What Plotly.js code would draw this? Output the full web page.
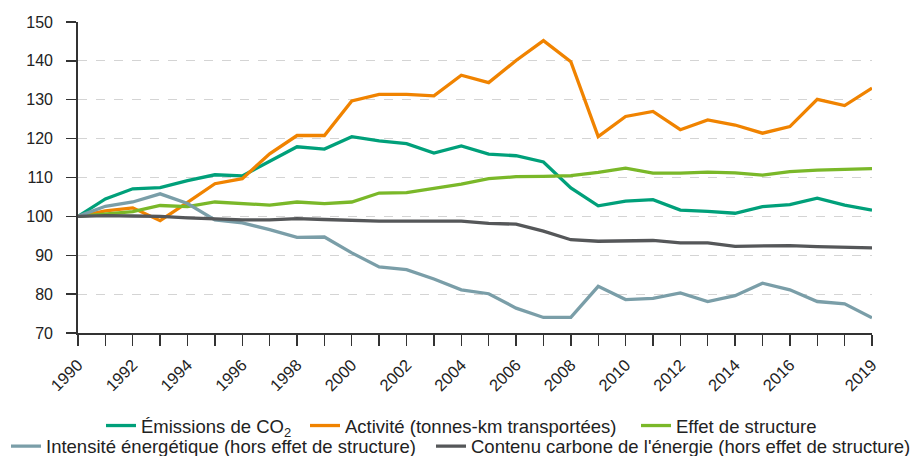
<!DOCTYPE html>
<html>
<head>
<meta charset="utf-8">
<script src="https://cdn.plot.ly/plotly-3.0.1.min.js"></script>
<style>
html,body{margin:0;padding:0;background:#fff;}
#chart{width:915px;height:456px;}
</style>
</head>
<body>
<div id="chart"></div>
<script>
const years = [1990,1991,1992,1993,1994,1995,1996,1997,1998,1999,2000,2001,2002,2003,2004,2005,2006,2007,2008,2009,2010,2011,2012,2013,2014,2015,2016,2017,2018,2019];
const emissions = [100,104.5,107.1,107.4,109.2,110.7,110.4,114.1,117.9,117.3,120.5,119.4,118.7,116.3,118.1,116.0,115.6,114.0,107.3,102.7,103.9,104.3,101.6,101.3,100.8,102.5,103.0,104.7,102.9,101.6];
const activite = [100,101.4,102.2,98.9,103.6,108.4,109.7,116.1,120.8,120.8,129.7,131.4,131.4,131.0,136.3,134.4,140.1,145.2,139.8,120.5,125.7,127.0,122.3,124.8,123.5,121.4,123.1,130.1,128.5,133.0];
const structure = [100,100.7,101.2,102.8,102.5,103.7,103.2,102.9,103.7,103.3,103.7,106.0,106.1,107.1,108.3,109.7,110.2,110.3,110.5,111.3,112.4,111.1,111.1,111.4,111.2,110.6,111.5,111.9,112.1,112.3];
const intensite = [100,102.6,103.7,105.8,103.3,99.1,98.3,96.6,94.6,94.7,90.6,87.0,86.3,83.9,81.1,80.1,76.4,74.0,74.0,82.0,78.6,78.9,80.3,78.1,79.6,82.8,81.1,78.1,77.5,73.9];
const carbone = [100,100.2,100.1,100.0,99.6,99.3,99.1,99.1,99.4,99.2,98.9,98.8,98.8,98.8,98.8,98.2,98.0,96.2,94.0,93.6,93.8,93.8,93.2,93.2,92.3,92.3,92.5,92.2,92.1,91.9];
const tickYears = years;
const tickLabels = ["1990","","1992","","1994","","1996","","1998","","2000","","2002","","2004","","2006","","2008","","2010","","2012","","2014","","2016","","","2019"];
const yTicks = [70,80,90,100,110,120,130,140,150];

const FONT = '"Liberation Sans", Arial, Helvetica, sans-serif';

function tr(name, y, color, legend) {
  return {x: years, y: y, name: name, type: 'scatter', mode: 'lines',
          line: {color: color, width: 3.3}, legend: legend};
}
const data = [
  tr('Émissions de CO<sub>2</sub>', emissions, '#00a07a', 'legend'),
  tr('Activité (tonnes-km transportées)', activite, '#f08300', 'legend2'),
  tr('Effet de structure', structure, '#7ab829', 'legend3'),
  tr('Intensité énergétique (hors effet de structure)', intensite, '#7a9ea8', 'legend4'),
  tr('Contenu carbone de l\'énergie (hors effet de structure)', carbone, '#555759', 'legend5')
];
function leg(xpx, ypx) {
  return {orientation: 'h', x: xpx/915, xref: 'container', xanchor: 'left',
          y: 1 - ypx/456, yref: 'container', yanchor: 'middle',
          font: {family: FONT, size: 18.5, color: '#222'}, itemwidth: 30, bgcolor: 'rgba(0,0,0,0)'};
}
const layout = {
  width: 915, height: 456,
  margin: {l: 78, r: 43, t: 22, b: 123, autoexpand: false},
  paper_bgcolor: '#fff', plot_bgcolor: '#fff',
  font: {family: FONT, size: 15, color: '#222'},
  xaxis: {
    range: [1990, 2019], tickmode: 'array', tickvals: tickYears, ticktext: tickLabels,
    tickangle: -45, ticks: 'outside', ticklen: 11, tickwidth: 1.4, tickcolor: '#333',
    showline: true, linecolor: '#333', linewidth: 1.8, showgrid: false, zeroline: false,
    ticklabelstandoff: 3,
    tickfont: {family: FONT, size: 16.5, color: '#222'}, automargin: false
  },
  yaxis: {
    range: [70, 150], tickmode: 'array', tickvals: yTicks,
    ticks: 'outside', ticklen: 10, tickwidth: 1.4, tickcolor: '#333',
    showline: true, linecolor: '#333', linewidth: 1.8, ticklabelstandoff: 10,
    showgrid: true, gridcolor: '#d4d4d4', griddash: 'dash', gridwidth: 1, zeroline: false,
    tickfont: {family: FONT, size: 16, color: '#222'}, automargin: false
  },
  legend: leg(101, 426),
  legend2: leg(305, 426),
  legend3: leg(636, 426),
  legend4: leg(6, 446.5),
  legend5: leg(431, 446.5),
  showlegend: true
};
Plotly.newPlot('chart', data, layout, {displayModeBar: false, staticPlot: true});
</script>
</body>
</html>
